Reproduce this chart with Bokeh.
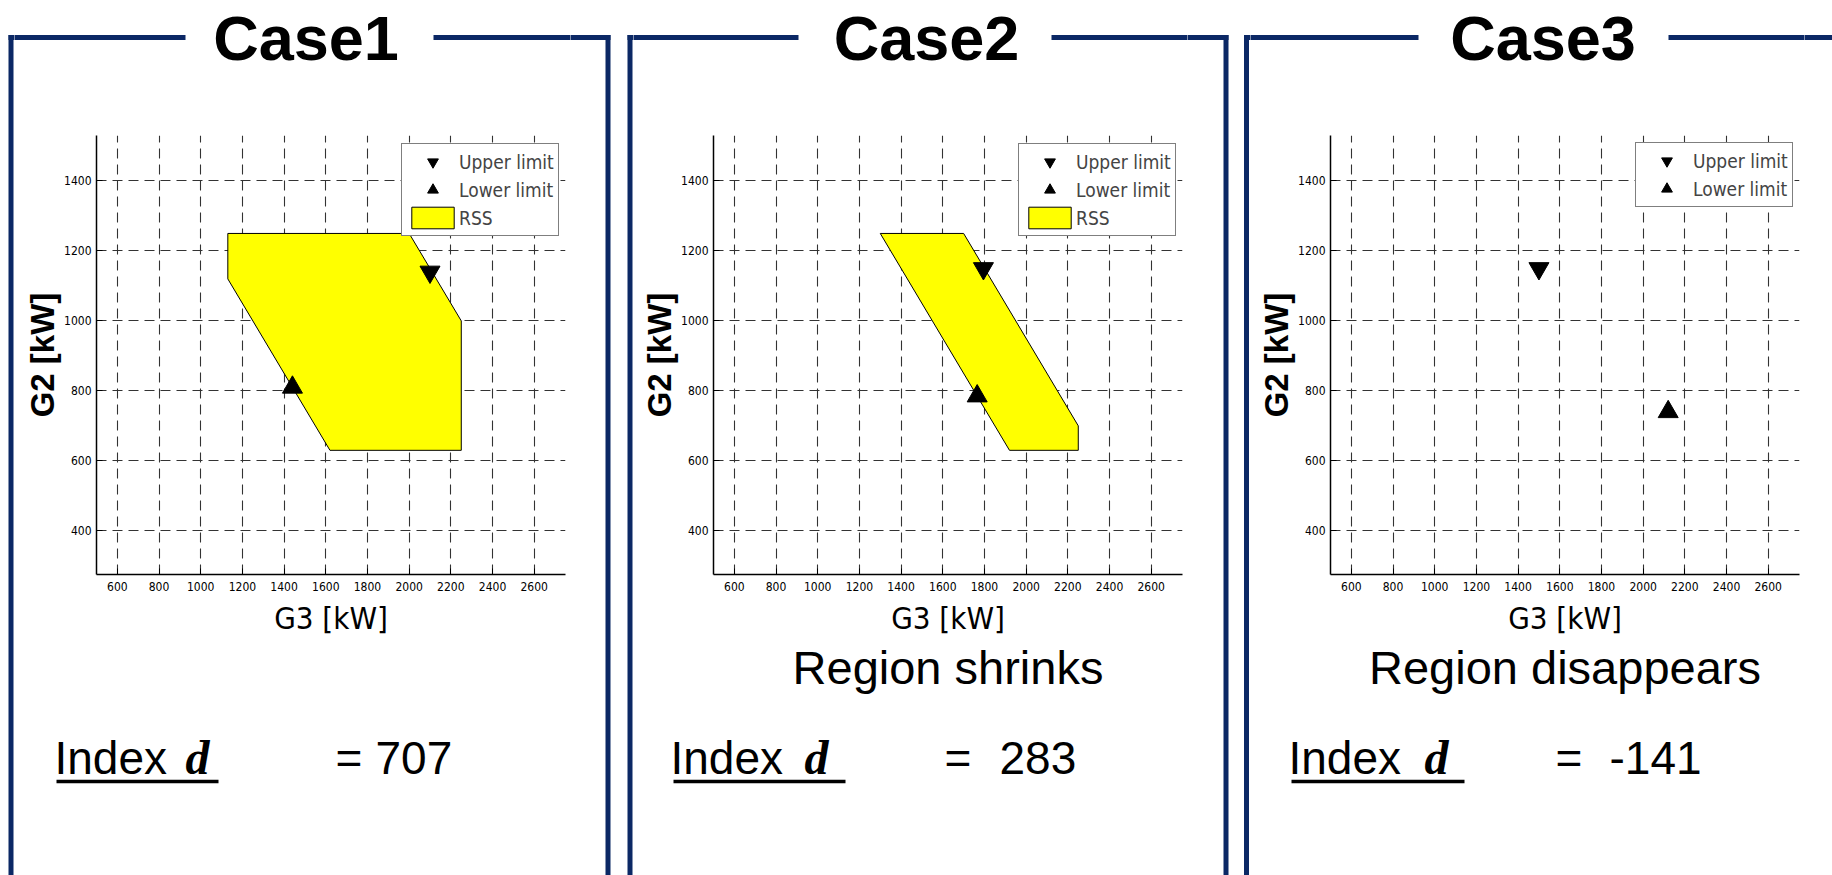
from bokeh.plotting import figure
from bokeh.layouts import row, column
from bokeh.models import Label, Range1d, FixedTicker, Legend, LegendItem, Title
from bokeh.embed import file_html
from bokeh.resources import INLINE

# ---------------- data ----------------
case_titles = ["Case1", "Case2", "Case3"]
captions = ["", "Region shrinks", "Region disappears"]
index_d = [707, 283, -141]

rss_g3 = [[1130, 2000, 2250, 2250, 1620, 1130],
          [1300, 1700, 2250, 2250, 1920],
          []]
rss_g2 = [[1250, 1250, 1000, 630, 630, 1120],
          [1250, 1250, 700, 630, 630],
          []]

upper_g3 = [2100, 1795, 1500]
upper_g2 = [1140, 1150, 1150]
lower_g3 = [1440, 1765, 2120]
lower_g2 = [810, 785, 740]

x_ticks = [600, 800, 1000, 1200, 1400, 1600, 1800, 2000, 2200, 2400, 2600]
y_ticks = [400, 600, 800, 1000, 1200, 1400]
x_label = "G3 [kW]"
y_label = "G2 [kW]"

# ---------------- layout / style ----------------
NARROW = "DejaVu Sans Condensed, Liberation Sans Narrow, sans-serif"
SANS = "Liberation Sans, Arial, sans-serif"
SERIF = "Liberation Serif, Times New Roman, serif"
NAVY = "#0b2865"
LW = 5  # slide frame line width
BASE_SHIFT = 0.38  # Label anchors on the text box centre; shift to the baseline
PAGE_H = 875

PANEL_W = [625, 617, 590]          # page columns of the three panels
LEFT_STRIP = [14, 8, 8]
M_L = [82, 80, 80]
M_R, M_T, M_B = 5, 15, 130
FRAME_W, FRAME_H = 469, 439
TOP_H = 120
CHART_H = M_T + FRAME_H + M_B
BOT_H = PAGE_H - TOP_H - CHART_H
Y_TOP = 37

left_line = [10.5, 4.5, 4.0]
right_line = [607.5, 600.5, 600.8]
gap = [(185, 433), (173, 426), (176, 426)]
title_cx = [305.5, 301, 300.5]
index_x = [54, 45, 46]
d_x = [185, 179, 182]
underline = [(56, 218), (48, 220), (49, 222)]
eq_x = [335, 319, 313]
num_x = [375, 374, 367]
legend_bottom = [338, 338, 367]


def no_align(p):
    if "frame_align" in p.properties():
        p.frame_align = False
    return p


def strip(w, h):
    p = figure(width=w, height=h, x_range=Range1d(0, w), y_range=Range1d(h, 0),
               x_axis_type=None, y_axis_type=None, min_border=0,
               toolbar_location=None, output_backend="svg")
    p.outline_line_color = None
    p.background_fill_color = "white"
    p.border_fill_color = "white"
    return no_align(p)


def bar(p, x0, x1, y0, y1, color=NAVY):
    p.quad(left=[x0], right=[x1], top=[y0], bottom=[y1], fill_color=color,
           line_color=None)


def text(p, x, baseline, t, size, font=SANS, style="normal", align="left"):
    p.add_layout(Label(x=x, y=baseline - BASE_SHIFT * size, text=t, text_font=font,
                       text_font_style=style, text_font_size=f"{size}px",
                       text_align=align, text_baseline="alphabetic",
                       text_color="black"))


def chart(k):
    cw = M_L[k] + FRAME_W + M_R
    p = figure(width=cw, height=CHART_H, frame_width=FRAME_W, frame_height=FRAME_H,
               min_border_left=M_L[k], min_border_right=M_R, min_border_top=M_T,
               min_border_bottom=M_B,
               x_range=Range1d(500, 2750), y_range=Range1d(275, 1530),
               output_backend="svg", toolbar_location=None)
    no_align(p)
    p.outline_line_color = None
    p.background_fill_color = "white"
    p.border_fill_color = "white"

    p.xaxis.ticker = FixedTicker(ticks=x_ticks)
    p.yaxis.ticker = FixedTicker(ticks=y_ticks)
    for ax in (p.xaxis, p.yaxis):
        ax.major_tick_in = 6
        ax.major_tick_out = 0
        ax.minor_tick_line_color = None
        ax.axis_line_width = 1.5
        ax.axis_line_color = "black"
        ax.major_tick_line_color = "black"
        ax.major_label_text_font = NARROW
        ax.major_label_text_font_size = "12px"
        ax.major_label_text_color = "black"
        ax.axis_label_text_color = "black"
    p.xaxis.major_label_standoff = 7
    p.yaxis.major_label_standoff = 5
    p.xaxis.axis_label = x_label
    p.xaxis.axis_label_text_font = NARROW
    p.xaxis.axis_label_text_font_style = "normal"
    p.xaxis.axis_label_text_font_size = "31px"
    p.xaxis.axis_label_standoff = 6
    p.yaxis.axis_label = y_label
    p.yaxis.axis_label_text_font = SANS
    p.yaxis.axis_label_text_font_style = "bold"
    p.yaxis.axis_label_text_font_size = "33px"
    p.yaxis.axis_label_standoff = 0

    for g in (p.xgrid, p.ygrid):
        g.grid_line_color = "#333333"
        g.grid_line_dash = "10 6"
        g.grid_line_width = 1.1

    items = []
    if rss_g3[k]:
        r_rss = p.patch(x=rss_g3[k], y=rss_g2[k], fill_color="#ffff00",
                        line_color="black", line_width=1)
    r_up = p.scatter(x=[upper_g3[k]], y=[upper_g2[k]], marker="inverted_triangle",
                     size=20, fill_color="black", line_color="black")
    r_lo = p.scatter(x=[lower_g3[k]], y=[lower_g2[k]], marker="triangle",
                     size=20, fill_color="black", line_color="black")
    items.append(LegendItem(label="Upper limit", renderers=[r_up]))
    items.append(LegendItem(label="Lower limit", renderers=[r_lo]))
    if rss_g3[k]:
        items.append(LegendItem(label="RSS", renderers=[r_rss]))

    leg = Legend(items=items, location=(305, legend_bottom[k]))
    leg.padding = 4
    leg.spacing = 1
    leg.margin = 0
    leg.glyph_height = 27
    leg.label_height = 27
    leg.glyph_width = 53
    leg.label_standoff = 0
    leg.label_text_font = NARROW
    leg.label_text_font_size = "19px"
    leg.border_line_color = "black"
    leg.border_line_width = 1.5
    leg.background_fill_alpha = 1.0
    p.add_layout(leg)

    if captions[k]:
        p.add_layout(Title(text=captions[k], align="center", text_font=SANS,
                           text_font_size="47px", text_font_style="normal",
                           text_color="black", standoff=0), "below")
    return p


panels = []
for k in range(3):
    W = PANEL_W[k]
    a = LEFT_STRIP[k]
    cw = M_L[k] + FRAME_W + M_R
    b = W - a - cw
    h0, h1 = Y_TOP - LW / 2, Y_TOP + LW / 2

    # full-height side strips carrying the vertical edges of the slide frame
    left = strip(a, PAGE_H)
    bar(left, left_line[k] - LW / 2, left_line[k] + LW / 2, h0, PAGE_H + 6)
    bar(left, left_line[k] - LW / 2, a + 6, h0, h1)
    right = strip(b, PAGE_H)
    rx = right_line[k] - a - cw
    bar(right, rx - LW / 2, rx + LW / 2, h0, PAGE_H + 6)
    bar(right, -6, rx + LW / 2, h0, h1)

    # top strip: title and the top edge around it
    top = strip(cw, TOP_H)
    bar(top, -6, gap[k][0] - a, h0, h1)
    bar(top, gap[k][1] - a, cw + 6, h0, h1)
    text(top, title_cx[k] - a, 61, case_titles[k], 63, style="bold", align="center")

    # bottom strip: index d
    y0 = TOP_H + CHART_H
    bot = strip(cw, BOT_H)
    text(bot, index_x[k] - a, 775 - y0, "Index", 46)
    text(bot, d_x[k] - a, 775 - y0, "d", 48, font=SERIF, style="bold italic")
    bar(bot, underline[k][0] - a, underline[k][1] - a, 779.3 - y0, 782.7 - y0,
        color="black")
    text(bot, eq_x[k] - a, 775 - y0, "=", 46)
    text(bot, num_x[k] - a, 775 - y0, str(index_d[k]), 46)

    centre = column(top, chart(k), bot, spacing=0)
    panels.append(row(left, centre, right, spacing=0))

layout = row(*panels, spacing=0)
open("out.html", "w").write(file_html(layout, INLINE))
